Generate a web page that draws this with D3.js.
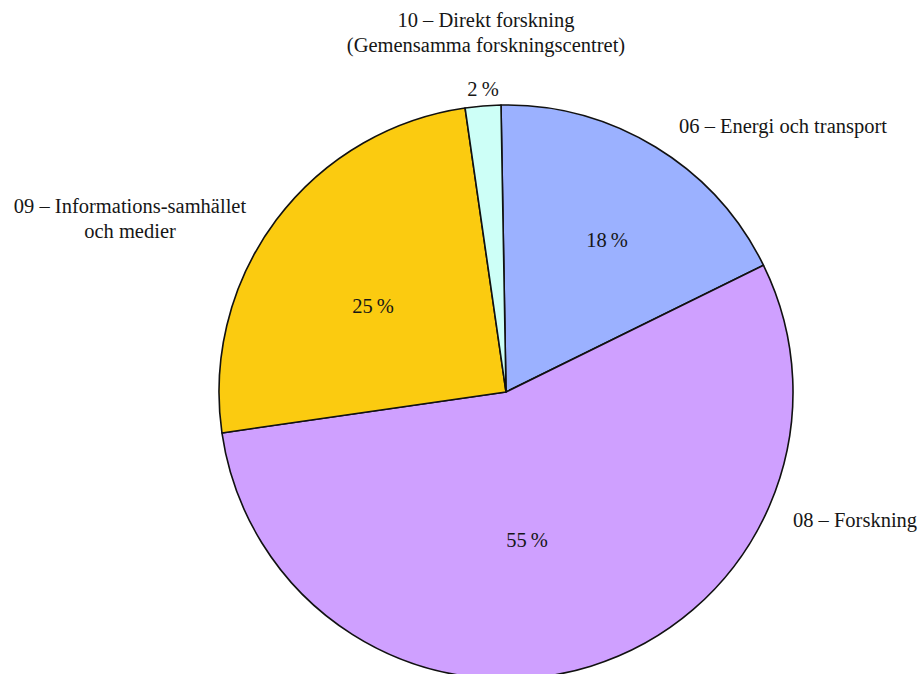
<!DOCTYPE html>
<html>
<head>
<meta charset="utf-8">
<script src="https://cdn.jsdelivr.net/npm/d3@7"></script>
<style>
  html, body { margin: 0; padding: 0; background: #fff; }
  svg { display: block; }
  text { font-family: "Liberation Serif", "DejaVu Serif", serif; fill: #161616; }
</style>
</head>
<body>
<svg id="chart" width="920" height="674"></svg>
<script>
// Budget shares by policy area
const codes = ["06", "08", "09", "10"];
const names = [
  ["Energi och transport"],
  ["Forskning"],
  ["Informations-samhället", "och medier"],
  ["Direkt forskning", "(Gemensamma forskningscentret)"]
];
const shares = [18, 55, 25, 2];
const colors = ["#9bb1ff", "#cfa0ff", "#fbcb10", "#cdfff7"];

// Placement of the text around and inside the pie (offsets from centre)
const outerLabelPos = [
  { dx: 277, dy: -259, anchor: "middle" },
  { dx: 349, dy: 135, anchor: "middle" },
  { dx: -376, dy: -179, anchor: "middle" },
  { dx: -20, dy: -365, anchor: "middle" }
];
const innerLabelPos = [
  { dx: 101, dy: -145 },
  { dx: 21, dy: 155 },
  { dx: -133, dy: -79 },
  { dx: -23, dy: -296 }
];

const svg = d3.select("#chart");
const cx = 506, cy = 392, R = 287;
const g = svg.append("g").attr("transform", `translate(${cx},${cy})`);

const data = codes.map((c, i) => ({ code: c, name: names[i], value: shares[i], color: colors[i], i }));

const rot = -1 * Math.PI / 180;
const pie = d3.pie().value(d => d.value).sort(null)
  .startAngle(rot).endAngle(2 * Math.PI + rot);
const arc = d3.arc().innerRadius(0).outerRadius(R);

g.selectAll("path.slice")
  .data(pie(data))
  .join("path")
  .attr("class", "slice")
  .attr("d", arc)
  .attr("fill", d => d.data.color)
  .attr("stroke", "#111")
  .attr("stroke-width", 1.6)
  .attr("stroke-linejoin", "round");

const fontSize = 20.5;

// percentage labels
g.selectAll("text.pct")
  .data(data)
  .join("text")
  .attr("class", "pct")
  .attr("x", d => innerLabelPos[d.i].dx)
  .attr("y", d => innerLabelPos[d.i].dy)
  .attr("text-anchor", "middle")
  .attr("font-size", fontSize)
  .text(d => d.value + "\u2009%");

// category labels
const lineH = 25;
data.forEach(d => {
  const p = outerLabelPos[d.i];
  const t = g.append("text")
    .attr("x", p.dx)
    .attr("y", p.dy)
    .attr("text-anchor", p.anchor)
    .attr("font-size", fontSize);
  d.name.forEach((line, k) => {
    t.append("tspan")
      .attr("x", p.dx)
      .attr("dy", k === 0 ? 0 : lineH)
      .text(k === 0 ? `${d.code} \u2013 ${line}` : line);
  });
});
</script>
</body>
</html>
